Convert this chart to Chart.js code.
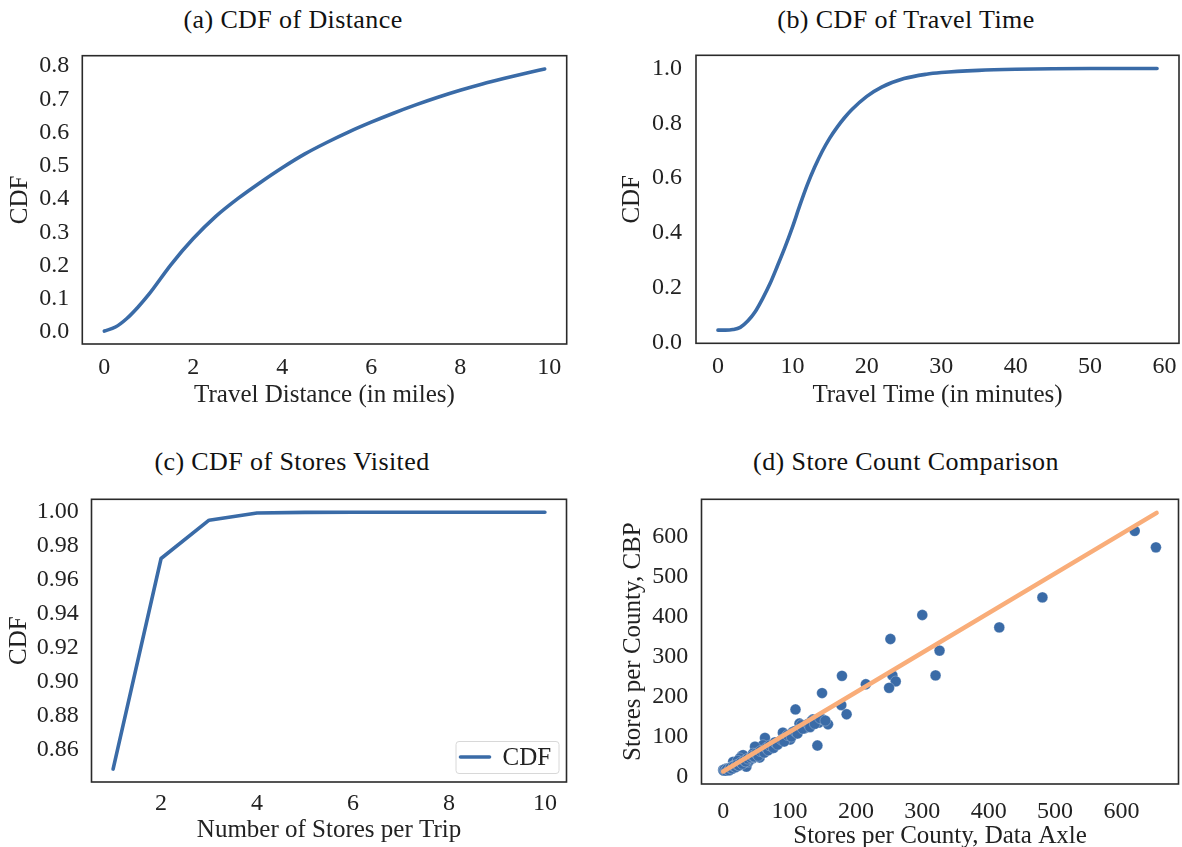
<!DOCTYPE html>
<html>
<head>
<meta charset="utf-8">
<title>Trip and store statistics</title>
<script src="https://cdn.jsdelivr.net/npm/chart.js@4.4.1/dist/chart.umd.min.js"></script>
<style>
  html, body { margin: 0; padding: 0; background: #fff; overflow: hidden; }
  body { position: relative; width: 1182px; height: 847px; }
  canvas.panel { position: absolute; }
  .caption {
    position: absolute;
    transform: translate(-50%, -50%);
    white-space: nowrap;
    font-family: 'Liberation Serif', 'Times New Roman', serif;
    font-size: 26px;
    letter-spacing: 0.4px;
    color: #111;
  }
</style>
</head>
<body>
<div class="caption" style="left:293px;top:20px">(a) CDF of Distance</div>
<div class="caption" style="left:906px;top:20px">(b) CDF of Travel Time</div>
<div class="caption" style="left:292px;top:462px">(c) CDF of Stores Visited</div>
<div class="caption" style="left:906px;top:462px">(d) Store Count Comparison</div>

<canvas id="distChart" class="panel" width="590" height="420" style="left:0;top:0"></canvas>
<canvas id="timeChart" class="panel" width="620" height="420" style="left:590px;top:0"></canvas>
<canvas id="storesChart" class="panel" width="590" height="440" style="left:0;top:430px"></canvas>
<canvas id="countChart" class="panel" width="620" height="440" style="left:590px;top:430px"></canvas>

<script>
// (a) travel distance
const distMiles = [0, 0.25, 0.5, 0.75, 1, 1.5, 2, 2.5, 3, 3.5, 4, 4.5, 5, 5.5, 6, 6.5, 7, 7.5, 8, 8.5, 9, 9.5, 9.9];
const distCdf = [0.003, 0.015, 0.04, 0.074, 0.113, 0.203, 0.281, 0.347, 0.401, 0.449, 0.494, 0.535, 0.570, 0.602, 0.631, 0.658, 0.683, 0.706, 0.727, 0.746, 0.763, 0.779, 0.791];
const distXTicks = [0, 2, 4, 6, 8, 10];
const distYTicks = [0, 0.1, 0.2, 0.3, 0.4, 0.5, 0.6, 0.7, 0.8];

// (b) travel time
const timeMinutes = [0, 1, 2, 3, 4, 5, 6, 7, 8, 9, 10, 11, 12, 13, 14, 15, 16, 17, 18, 20, 22, 25, 28, 30, 35, 40, 45, 50, 55, 59];
const timeCdf = [0.045, 0.045, 0.047, 0.055, 0.078, 0.112, 0.16, 0.215, 0.28, 0.347, 0.42, 0.5, 0.575, 0.64, 0.697, 0.745, 0.785, 0.82, 0.85, 0.898, 0.932, 0.963, 0.979, 0.985, 0.993, 0.997, 0.999, 1.0, 1.0, 1.0];
const timeXTicks = [0, 10, 20, 30, 40, 50, 60];
const timeYTicks = [0, 0.2, 0.4, 0.6, 0.8, 1.0];

// (c) stores per trip
const storesPerTrip = [1, 2, 3, 4, 5, 6, 7, 8, 9, 10];
const storesCdf = [0.8486, 0.9727, 0.9953, 0.9995, 0.9999, 1.0, 1.0, 1.0, 1.0, 1.0];
const storesXTicks = [2, 4, 6, 8, 10];
const storesYTicks = [0.86, 0.88, 0.90, 0.92, 0.94, 0.96, 0.98, 1.00];

// (d) stores per county, Data Axle vs CBP
const dataAxleCounts = [620, 652, 481, 416, 300, 326, 320, 252, 255, 260, 250, 215, 179, 178, 186, 149, 109, 142, 158, 144,
  150, 135, 126, 117, 115, 63, 90, 100, 85, 73, 60, 45, 35, 28, 15, 5, 0, 133, 118, 114,
  101, 74, 60, 58, 48, 45, 35, 38, 30, 25, 20, 13, 8, 3, 1, 10, 18, 22, 40, 52,
  66, 80, 95, 105, 123, 55, 30,
  2, 4, 6, 9, 11, 14, 16, 19, 21, 24, 27, 29, 32, 34, 37, 42, 44, 47, 50, 53,
  56, 62, 65, 68, 70, 76, 78, 82, 88, 92, 97, 103, 108, 112, 120, 128, 131, 138, 146, 154];
const cbpCounts = [614, 573, 448, 373, 404, 315, 253, 344, 253, 238, 222, 231, 252, 179, 156, 209, 168, 78, 131, 135,
  143, 143, 126, 124, 133, 97, 110, 96, 87, 71, 62, 46, 29, 52, 37, 21, 17, 139, 129, 116,
  93, 76, 79, 62, 75, 58, 25, 37, 54, 46, 33, 25, 21, 17, 15, 18, 28, 40, 42, 55,
  68, 82, 100, 112, 121, 48, 35,
  18, 15, 19, 16, 22, 20, 26, 24, 30, 28, 36, 32, 40, 38, 45, 48, 52, 50, 58, 52,
  64, 60, 72, 66, 78, 72, 86, 80, 92, 88, 104, 100, 114, 108, 120, 132, 124, 132, 146, 140];
const fitX = [0, 653];
const fitY = [13, 659];
const countTicks = [0, 100, 200, 300, 400, 500, 600];

const BLUE = '#3a6ba7';
const ORANGE = '#f9ad79';
const TEXT = '#222222';
const FONT = "'Liberation Serif', 'Times New Roman', serif";

Chart.defaults.font.family = FONT;

const toPoints = (xs, ys) => xs.map((x, i) => ({ x: x, y: ys[i] }));

// axis with a fixed box size so the plot frame lands where it should
function makeAxis(cfg) {
    return {
        type: 'linear',
        position: cfg.position,
        min: cfg.min,
        max: cfg.max,
        grid: { display: false, drawTicks: false },
        border: { display: false },
        ticks: {
            autoSkip: false,
            maxRotation: 0,
            padding: cfg.tickPad,
            color: TEXT,
            font: { family: FONT, size: 24 },
            callback: cfg.format
        },
        title: {
            display: true,
            text: cfg.title,
            color: TEXT,
            font: { family: FONT, size: 25 },
            padding: cfg.titlePad
        },
        afterBuildTicks: scale => {
            scale.ticks = cfg.ticks.map(value => ({ value }));
        },
        afterFit: scale => {
            if (cfg.position === 'left') scale.width = cfg.size;
            else scale.height = cfg.size;
            scale.paddingLeft = scale.paddingRight = scale.paddingTop = scale.paddingBottom = 0;
        }
    };
}

const framePlugin = {
    id: 'frame',
    afterDatasetsDraw(chart) {
        const { ctx, chartArea: a } = chart;
        ctx.save();
        ctx.strokeStyle = '#2a2a2a';
        ctx.lineWidth = 1.6;
        ctx.strokeRect(a.left, a.top, a.right - a.left, a.bottom - a.top);
        ctx.restore();
    }
};

// matplotlib-style legend box in the lower right corner of the axes
const cornerLegend = {
    id: 'cornerLegend',
    afterDraw(chart) {
        const ds = chart.data.datasets[0];
        const { ctx, chartArea: a } = chart;
        const w = 103, h = 32;
        const x = a.right - 8 - w;
        const y = a.bottom - 9 - h;
        ctx.save();
        ctx.fillStyle = 'rgba(255,255,255,0.85)';
        ctx.strokeStyle = '#d8d8d8';
        ctx.lineWidth = 1;
        ctx.beginPath();
        ctx.roundRect(x + 0.5, y + 0.5, w, h, 3);
        ctx.fill();
        ctx.stroke();
        ctx.strokeStyle = ds.borderColor;
        ctx.lineWidth = ds.borderWidth;
        ctx.lineCap = 'round';
        ctx.beginPath();
        ctx.moveTo(x + 5, y + h / 2);
        ctx.lineTo(x + 34, y + h / 2);
        ctx.stroke();
        ctx.fillStyle = TEXT;
        ctx.font = '25px ' + FONT;
        ctx.textBaseline = 'middle';
        ctx.fillText(ds.label, x + 47, y + h / 2 + 1);
        ctx.restore();
    }
};

function baseOptions(pad, scales) {
    return {
        responsive: false,
        animation: false,
        events: [],
        layout: { padding: pad },
        plugins: { legend: { display: false }, tooltip: { enabled: false }, title: { display: false } },
        scales: scales
    };
}

function cdfLine(label, xs, ys, smooth) {
    return {
        label: label,
        data: toPoints(xs, ys),
        borderColor: BLUE,
        borderWidth: 3.6,
        borderCapStyle: 'round',
        borderJoinStyle: 'round',
        pointRadius: 0,
        fill: false,
        tension: smooth ? 0.4 : 0,
        cubicInterpolationMode: smooth ? 'monotone' : 'default'
    };
}

const fmt = digits => value => Number(value).toFixed(digits);

// (a)
new Chart(document.getElementById('distChart'), {
    type: 'line',
    data: { datasets: [cdfLine('CDF', distMiles, distCdf, true)] },
    options: baseOptions({ left: 0, top: 55.7, right: 23.3, bottom: 0 }, {
        x: makeAxis({ position: 'bottom', min: -0.495, max: 10.395, ticks: distXTicks, format: fmt(0),
            title: 'Travel Distance (in miles)', size: 76, tickPad: 8.9, titlePad: { top: 0, bottom: 10 } }),
        y: makeAxis({ position: 'left', min: -0.036, max: 0.831, ticks: distYTicks, format: fmt(1),
            title: 'CDF', size: 82.3, tickPad: 13, titlePad: { top: 5.6, bottom: 0 } })
    }),
    plugins: [framePlugin]
});

// (b)
new Chart(document.getElementById('timeChart'), {
    type: 'line',
    data: { datasets: [cdfLine('CDF', timeMinutes, timeCdf, true)] },
    options: baseOptions({ left: 0, top: 55.3, right: 31, bottom: 0 }, {
        x: makeAxis({ position: 'bottom', min: -2.95, max: 61.95, ticks: timeXTicks, format: fmt(0),
            title: 'Travel Time (in minutes)', size: 76.7, tickPad: 9, titlePad: { top: 0, bottom: 10 } }),
        y: makeAxis({ position: 'left', min: -0.003, max: 1.048, ticks: timeYTicks, format: fmt(1),
            title: 'CDF', size: 106, tickPad: 14, titlePad: { top: 27.6, bottom: 0 } })
    }),
    plugins: [framePlugin]
});

// (c)
new Chart(document.getElementById('storesChart'), {
    type: 'line',
    data: { datasets: [cdfLine('CDF', storesPerTrip, storesCdf, false)] },
    options: baseOptions({ left: 0, top: 69.3, right: 23.5, bottom: 0 }, {
        x: makeAxis({ position: 'bottom', min: 0.55, max: 10.45, ticks: storesXTicks, format: fmt(0),
            title: 'Number of Stores per Trip', size: 88, tickPad: 6.9, titlePad: { top: 0, bottom: 25 } }),
        y: makeAxis({ position: 'left', min: 0.8410, max: 1.0076, ticks: storesYTicks, format: fmt(2),
            title: 'CDF', size: 91.5, tickPad: 12.8, titlePad: { top: 4, bottom: 0 } })
    }),
    plugins: [framePlugin, cornerLegend]
});

// (d)
new Chart(document.getElementById('countChart'), {
    type: 'scatter',
    data: {
        datasets: [
            {
                type: 'line',
                label: 'fit',
                data: toPoints(fitX, fitY),
                borderColor: ORANGE,
                borderWidth: 4.5,
                borderCapStyle: 'round',
                pointRadius: 0,
                order: 0
            },
            {
                label: 'counties',
                data: toPoints(dataAxleCounts, cbpCounts),
                backgroundColor: BLUE,
                borderColor: 'rgba(255,255,255,0.5)',
                borderWidth: 0.5,
                pointRadius: 5.4,
                order: 1
            }
        ]
    },
    options: baseOptions({ left: 0, top: 69.3, right: 31.5, bottom: 0 }, {
        x: makeAxis({ position: 'bottom', min: -32.6, max: 686, ticks: countTicks, format: fmt(0),
            title: 'Stores per County, Data Axle', size: 86, tickPad: 13.3, titlePad: { top: 0, bottom: 19 } }),
        y: makeAxis({ position: 'left', min: -18.2, max: 693, ticks: countTicks, format: fmt(0),
            title: 'Stores per County, CBP', size: 111.5, tickPad: 13.2, titlePad: { top: 28.3, bottom: 0 } })
    }),
    plugins: [framePlugin]
});
</script>
</body>
</html>
